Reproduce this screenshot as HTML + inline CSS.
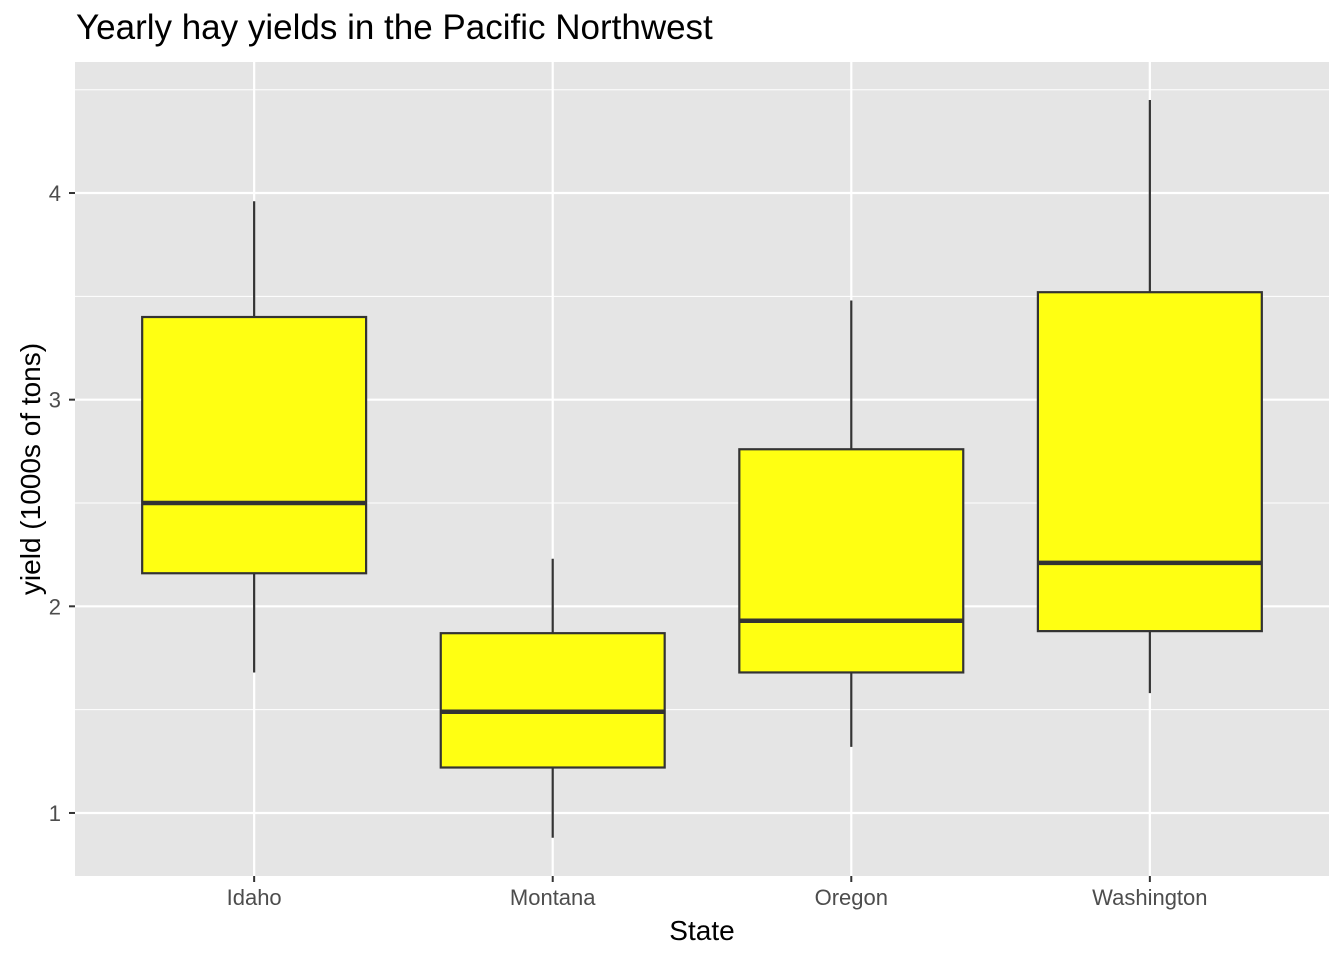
<!DOCTYPE html>
<html><head><meta charset="utf-8"><style>
body{margin:0;background:#fff;}
svg text{font-family:"Liberation Sans",Arial,sans-serif;}
</style></head><body>
<svg id="chart" width="1344" height="960">
<text x="76" y="39" font-size="35" fill="#000">Yearly hay yields in the Pacific Northwest</text>
<rect x="75" y="62" width="1254" height="814" fill="#e5e5e5"/>
<g id="grid"></g><g id="boxes"></g><g id="axes"></g>
<text x="702" y="940" font-size="28" text-anchor="middle" fill="#000">State</text>
<text transform="translate(40,469) rotate(-90)" font-size="28" text-anchor="middle" fill="#000">yield (1000s of tons)</text>
</svg>
<script>
const categories=["Idaho","Montana","Oregon","Washington"];
const whiskerLow=[1.68,0.88,1.32,1.58];
const q1=[2.16,1.22,1.68,1.88];
const medians=[2.50,1.49,1.93,2.21];
const q3=[3.40,1.87,2.76,3.52];
const whiskerHigh=[3.96,2.23,3.48,4.45];
const yTicks=[1,2,3,4];
const yMinor=[1.5,2.5,3.5,4.5];
const ns="http://www.w3.org/2000/svg";
const L=75,R=1329,T=62,B=876,yMin=0.695,yMax=4.634;
const y=v=>B-(v-yMin)/(yMax-yMin)*(B-T);
const unit=(R-L)/(categories.length-1+1.2);
const x=i=>L+unit*(i+0.6);
function mk(p,tag,a){const e=document.createElementNS(ns,tag);for(const k in a)e.setAttribute(k,a[k]);p.appendChild(e);return e;}
const g=document.getElementById('grid'),bx=document.getElementById('boxes'),ax=document.getElementById('axes');
yMinor.forEach(v=>{const e=mk(g,'line',{x1:L,x2:R,y1:y(v),y2:y(v),stroke:'#fff','stroke-width':1});

});
yTicks.forEach(v=>{const e=mk(g,'line',{x1:L,x2:R,y1:y(v),y2:y(v),stroke:'#fff','stroke-width':2.2});


const t=mk(ax,'line',{x1:69,x2:75,y1:y(v),y2:y(v),stroke:'#333','stroke-width':2});


const l=mk(ax,'text',{x:61,y:y(v)+8,'font-size':22,'text-anchor':'end',fill:'#4d4d4d'});l.textContent=v;

});
categories.forEach((c,i)=>{const cx=x(i);
const e=mk(g,'line',{x1:cx,x2:cx,y1:T,y2:B,stroke:'#fff','stroke-width':2.2});


const t=mk(ax,'line',{x1:cx,x2:cx,y1:876,y2:882,stroke:'#333','stroke-width':2});


const l=mk(ax,'text',{x:cx,y:905,'font-size':22,'text-anchor':'middle',fill:'#4d4d4d'});l.textContent=c;


const grp=mk(bx,'g',{});


const hw=unit*0.75/2;
mk(grp,'line',{x1:cx,x2:cx,y1:y(whiskerHigh[i]),y2:y(q3[i]),stroke:'#333','stroke-width':2.2});
mk(grp,'line',{x1:cx,x2:cx,y1:y(q1[i]),y2:y(whiskerLow[i]),stroke:'#333','stroke-width':2.2});
mk(grp,'rect',{x:cx-hw,y:y(q3[i]),width:2*hw,height:y(q1[i])-y(q3[i]),fill:'#ffff12',stroke:'#333','stroke-width':2.2});
mk(grp,'line',{x1:cx-hw,x2:cx+hw,y1:y(medians[i]),y2:y(medians[i]),stroke:'#333','stroke-width':4.5});
});
</script>
</body></html>
